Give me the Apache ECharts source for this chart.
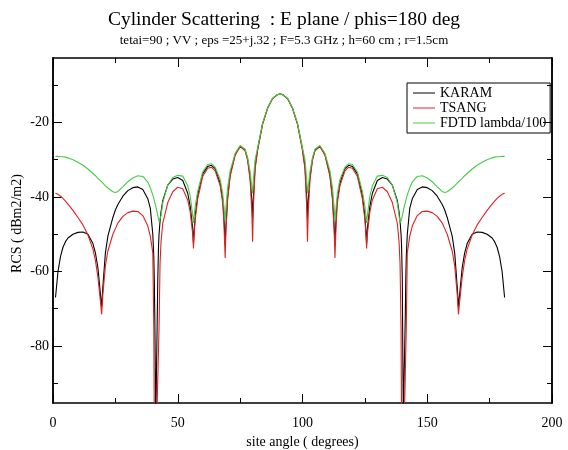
<!DOCTYPE html>
<html>
<head>
<meta charset="utf-8">
<script src="https://cdn.jsdelivr.net/npm/echarts@6/dist/echarts.min.js"></script>
<style>
html,body{margin:0;padding:0;background:#fff}
#rcs{width:568px;height:450px}
</style>
</head>
<body>
<div id="rcs"></div>
<script>
// site angle (deg), shared by the 3 curves
var angles = [1,2,3,4,5,6,8,10,12,14,16,17,18,19,19.5,20,21,22,24,25,26,28,30,32,34,36,38,39,40,40.4,40.6,
  40.8,41.2,41.6,42,42.3,42.5,42.9,43.3,44,46,48,50,52,54,55,56,56.3,56.6,57,58,60,62,63.5,65,67,
  68,68.5,69,69.3,70,71,73,75,77,78,79,79.7,80,80.3,81,82,84,86,88,90,91,
  92,94,96,98,100,101,101.7,102,102.3,103,104,105,107,109,111,112,112.7,113,113.5,114,115,117,118.5,120,
  122,124,125,125.4,125.7,126,127,128,130,132,134,136,138,138.7,139.1,139.5,139.7,140,140.4,140.8,141.2,
  141.4,141.6,142,143,144,146,148,150,152,154,156,157,158,160,161,162,162.5,163,164,165,166,168,170,
  172,174,176,177,178,179,180,181];

var karam = [-67,-60,-56,-53.5,-52,-51,-50,-49.5,-49.4,-50,-52.5,-55,-59,-66,-69.5,-64,-55,-50.5,-45.5,-43.5,-42,
  -39.8,-38.3,-37.5,-37.3,-38,-40.5,-43,-50,-56,-62,-72,-100,-100,-62,-53,-50,-46.5,-44,-41,-36.8,
  -35.2,-34.8,-35.6,-39,-42.5,-48.5,-52.5,-49,-45,-39.5,-33.8,-31.8,-31.5,-32.4,-36.3,-40.5,-45,-53,-48,-40,
  -34,-28.6,-26.4,-27.4,-29.8,-34.5,-41,-46,-40,-32,-27.3,-20.4,-16.2,-13.6,-12.5,-12.4,
  -12.5,-13.6,-16.2,-20.4,-27.3,-32,-40,-46,-41,-34.5,-29.8,-27.4,-26.4,-28.6,-34,-40,-48,-53,-45,-40.5,
  -36.3,-32.4,-31.5,-31.8,-33.8,-39.5,-45,-49,-52.5,-48.5,-42.5,-39,-35.6,-34.8,-35.2,-36.8,-41,-44,-46.5,-50,
  -53,-62,-100,-100,-72,-62,-56,-50,-43,-40.5,-38,-37.3,-37.5,-38.3,-39.8,-42,-43.5,-45.5,-50.5,-55,
  -64,-69.5,-66,-59,-55,-52.5,-50,-49.4,-49.5,-50,-51,-52,-53.5,-56,-60,-67];

var tsang = [-39,-39.3,-39.8,-40.4,-41.1,-41.9,-43.6,-45.5,-47.5,-50.2,-54,-57,-61.5,-68,-71.5,-66,-58.5,-54.5,-50,-48.5,-47,
  -45.2,-44.2,-43.8,-43.9,-45,-47.8,-50.5,-55,-75,-100,-100,-100,-100,-100,-100,-75,-58,-52,-47,-41.5,
  -38.6,-37.4,-37.8,-40.8,-44,-50,-53.8,-50,-46,-40.5,-34.5,-32.3,-32,-33,-37,-41.5,-47,-56.4,-49,-40.5,
  -34.5,-28.8,-26.5,-27.6,-30.2,-35.5,-44,-52,-43,-32.5,-27.5,-20.5,-16.2,-13.6,-12.5,-12.4,
  -12.5,-13.6,-16.2,-20.5,-27.5,-32.5,-43,-52,-44,-35.5,-30.2,-27.6,-26.5,-28.8,-34.5,-40.5,-49,-56.4,-47,-41.5,
  -37,-33,-32,-32.3,-34.5,-40.5,-46,-50,-53.8,-50,-44,-40.8,-37.8,-37.4,-38.6,-41.5,-47,-52,-58,-75,
  -100,-100,-100,-100,-100,-100,-75,-55,-50.5,-47.8,-45,-43.9,-43.8,-44.2,-45.2,-47,-48.5,-50,-54.5,-58.5,
  -66,-71.5,-68,-61.5,-57,-54,-50.2,-47.5,-45.5,-43.6,-41.9,-41.1,-40.4,-39.8,-39.3,-39];

var fdtd = [-29.1,-29.1,-29.2,-29.2,-29.3,-29.5,-30,-30.7,-31.5,-32.5,-33.7,-34.3,-35,-35.6,-36,-36.3,-37,-37.6,-38.6,-38.8,-38.5,
  -37.3,-35.9,-34.9,-34.3,-34.5,-36,-37.5,-39.5,-40.4,-41,-41.5,-42.5,-43.8,-45,-46,-46.6,-47,-45,-41.5,-36.8,
  -34.8,-34.2,-34.4,-37,-39.8,-45,-47,-45,-42.5,-38.5,-33.3,-31.3,-31.1,-32,-35.3,-39,-42.5,-46.5,-43,-37.5,
  -33,-28.3,-26.2,-27.2,-29.4,-33.2,-37.5,-39,-35.5,-30,-26.8,-20.2,-16.1,-13.5,-12.5,-12.4,
  -12.5,-13.5,-16.1,-20.2,-26.8,-30,-35.5,-39,-37.5,-33.2,-29.4,-27.2,-26.2,-28.3,-33,-37.5,-43,-46.5,-42.5,-39,
  -35.3,-32,-31.1,-31.3,-33.3,-38.5,-42.5,-45,-47,-45,-39.8,-37,-34.4,-34.2,-34.8,-36.8,-41.5,-45,-47,-46.6,
  -46,-45,-43.8,-42.5,-41.5,-41,-40.4,-39.5,-37.5,-36,-34.5,-34.3,-34.9,-35.9,-37.3,-38.5,-38.8,-38.6,-37.6,-37,
  -36.3,-36,-35.6,-35,-34.3,-33.7,-32.5,-31.5,-30.7,-30,-29.5,-29.3,-29.2,-29.2,-29.1,-29.1];

var seriesNames = ['KARAM', 'TSANG', 'FDTD lambda/100'];
var seriesColors = ['#000000', '#dd2222', '#44cc44'];
var yMajor = [-80, -60, -40, -20];
var yMinor = [-90, -70, -50, -30, -10];

var serif = 'Liberation Serif';
var chart = echarts.init(document.getElementById('rcs'));

function yAx(pos, ticks, len, labels){
    return {
        type: 'value', position: pos, min: -95.3, max: -2.7,
        axisLine: {show: true, lineStyle: {color: '#000', width: 1.5}},
        axisTick: {show: true, inside: true, length: len, customValues: ticks, lineStyle: {color: '#000'}},
        axisLabel: {show: labels, customValues: ticks, margin: 4, color: '#000', fontFamily: serif, fontSize: 14},
        splitLine: {show: false}
    }
}

var y0 = yAx('left', yMajor, 9, true);
y0.name = 'RCS ( dBm2/m2)';
y0.nameLocation = 'middle';
y0.nameGap = 29;
y0.nameMoveOverlap = false;
y0.nameTextStyle = {color: '#000', fontFamily: serif, fontSize: 14, padding: [0, 0, 0, 14]};

var lines = [karam, tsang, fdtd].map(function(vals, i){
    return {
        name: seriesNames[i], type: 'line', xAxisIndex: 0, yAxisIndex: 0,
        data: angles.map(function(a, k){ return [a, vals[k]] }),
        showSymbol: false, symbol: 'none', clip: true,
        lineStyle: {color: seriesColors[i], width: 1.1},
        itemStyle: {color: seriesColors[i]}
    }
});

chart.setOption({
    animation: false,
    backgroundColor: '#fff',
    title: {
        text: 'Cylinder Scattering  : E plane / phis=180 deg',
        subtext: 'tetai=90 ; VV ; eps =25+j.32 ; F=5.3 GHz ; h=60 cm ; r=1.5cm',
        left: 'center', top: 5, itemGap: 4,
        textStyle: {fontFamily: serif, fontWeight: 'normal', fontSize: 19.5, color: '#000'},
        subtextStyle: {fontFamily: serif, fontSize: 13, color: '#000'}
    },
    legend: {
        orient: 'vertical', left: 407, top: 83,
        data: seriesNames,
        icon: 'rect', itemWidth: 22, itemHeight: 1, itemGap: 1,
        padding: [3, 4, 3, 6],
        borderColor: '#000', borderWidth: 1,
        textStyle: {fontFamily: serif, fontSize: 14, color: '#000', lineHeight: 14}
    },
    grid: {left: 53, right: 16, top: 58, bottom: 47, outerBoundsMode: 'none'},
    xAxis: [{
        type: 'value', position: 'bottom', min: 0, max: 200, interval: 50,
        name: 'site angle ( degrees)', nameLocation: 'middle', nameGap: 32,
        nameTextStyle: {color: '#000', fontFamily: serif, fontSize: 14},
        axisLine: {lineStyle: {color: '#000', width: 1.5}},
        axisTick: {inside: true, length: 9, lineStyle: {color: '#000'}},
        minorTick: {show: true, splitNumber: 2, length: 5, lineStyle: {color: '#000'}},
        axisLabel: {margin: 13, color: '#000', fontFamily: serif, fontSize: 14},
        splitLine: {show: false}
    }, {
        type: 'value', position: 'top', min: 0, max: 200, interval: 50,
        axisLine: {lineStyle: {color: '#000', width: 1.5}},
        axisTick: {inside: true, length: 9, lineStyle: {color: '#000'}},
        minorTick: {show: true, splitNumber: 2, length: 5, lineStyle: {color: '#000'}},
        axisLabel: {show: false},
        splitLine: {show: false}
    }],
    yAxis: [y0, yAx('left', yMinor, 5, false), yAx('right', yMajor, 9, false), yAx('right', yMinor, 5, false)],
    series: lines
});
</script>
</body>
</html>
